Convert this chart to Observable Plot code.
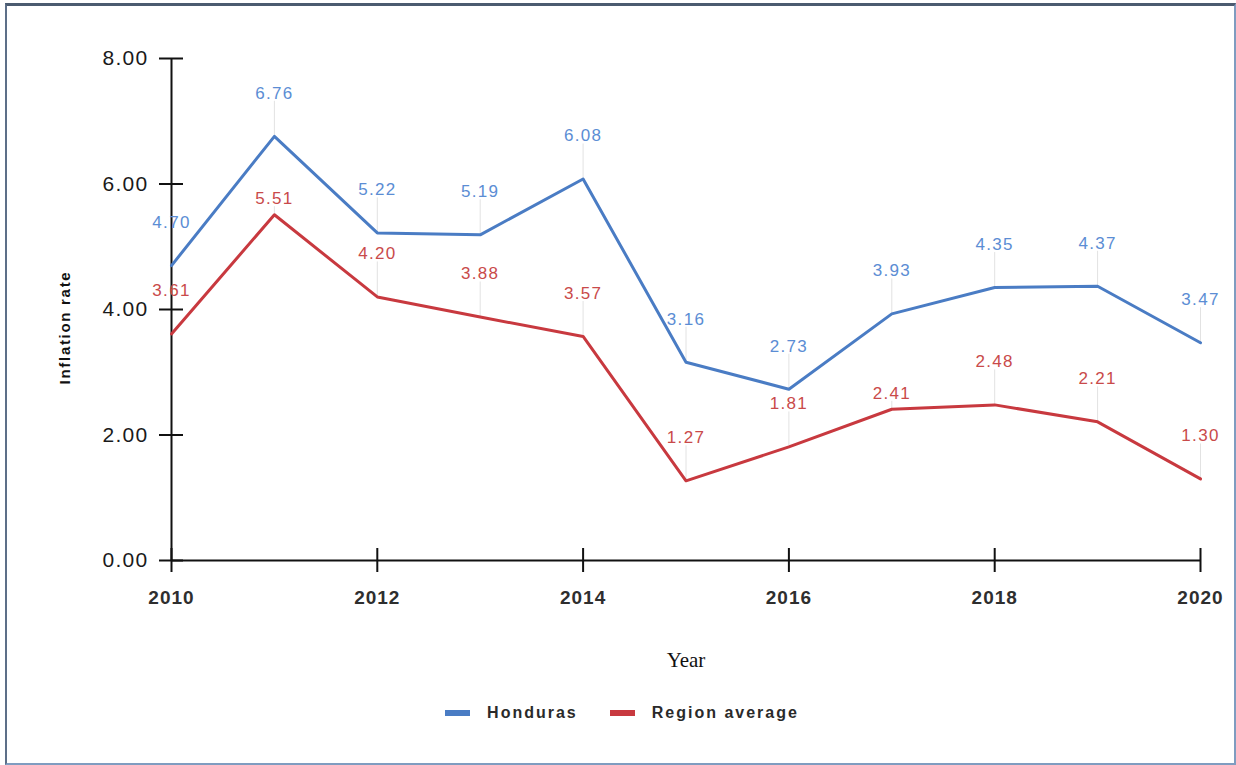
<!DOCTYPE html>
<html>
<head>
<meta charset="utf-8">
<script src="https://cdn.jsdelivr.net/npm/d3@7"></script>
<script src="https://cdn.jsdelivr.net/npm/@observablehq/plot@0.6"></script>
<style>
  html, body { margin: 0; padding: 0; background: #fff; }
  #wrap { position: relative; width: 1236px; height: 765px; overflow: hidden; }
  #frame { position: absolute; left: 5px; top: 3px; width: 1227px; height: 757px;
           border: 2px solid #7f9cc0; border-top: 3px solid #4b5b70; border-left: 2px solid #5d6f88; box-sizing: content-box; pointer-events: none; }
  #chart { position: absolute; left: 0; top: 0; }
  #legend { position: absolute; top: 704px; left: 0; width: 1244px; display: flex; justify-content: center; font-family: "Liberation Sans", Arial, sans-serif; font-size: 16px; font-weight: bold; letter-spacing: 2px; color: #2a2a2a; }
  .item { display: flex; align-items: center; margin: 0 16px; }
  .sw { width: 25px; height: 6px; margin-right: 17px; }
</style>
</head>
<body>
<div id="wrap">
  <div id="chart"></div>
  <div id="legend"></div>
  <div id="frame"></div>
</div>
<script>
const years = [2010, 2011, 2012, 2013, 2014, 2015, 2016, 2017, 2018, 2019, 2020];
const honduras = [4.70, 6.76, 5.22, 5.19, 6.08, 3.16, 2.73, 3.93, 4.35, 4.37, 3.47];
const regionAvg = [3.61, 5.51, 4.20, 3.88, 3.57, 1.27, 1.81, 2.41, 2.48, 2.21, 1.30];
const seriesNames = ["Honduras", "Region average"];
const seriesColors = ["#4a7cc4", "#c8393f"];
const labelColors = ["#5b8dd4", "#c94a4a"];
const yTicks = [0, 2, 4, 6, 8];
const xTicks = [2010, 2012, 2014, 2016, 2018, 2020];
// labels drawn closer to their point (to avoid crossing the other line)
const nearLabels = [["Region average", 2011], ["Region average", 2017]];

const rows = [];
years.forEach((yr, i) => {
  rows.push({series: seriesNames[0], year: yr, value: honduras[i]});
  rows.push({series: seriesNames[1], year: yr, value: regionAvg[i]});
});
const isNear = d => nearLabels.some(([s, y]) => s === d.series && y === d.year);
const farRows = rows.filter(d => !isNear(d));
const nearRows = rows.filter(isNear);
const colorOf = d => labelColors[seriesNames.indexOf(d.series)];

const plot = Plot.plot({
  width: 1236,
  height: 690,
  marginLeft: 171,
  marginRight: 36,
  marginTop: 58,
  marginBottom: 130,
  style: {background: "transparent", overflow: "visible"},
  x: {domain: [2010, 2020]},
  y: {domain: [0, 8]},
  color: {domain: seriesNames, range: seriesColors},
  marks: [
    // leader lines
    Plot.ruleX(farRows, {x: "year", y1: "value", y2: "value", insetTop: -35, stroke: "#e2e2e2", strokeWidth: 1}),
    Plot.ruleX(nearRows, {x: "year", y1: "value", y2: "value", insetTop: -8, stroke: "#e2e2e2", strokeWidth: 1}),
    // axes lines
    Plot.ruleX([2010], {y1: 0, y2: 8, stroke: "#111", strokeWidth: 2}),
    Plot.ruleY([0], {x1: 2010, x2: 2020, stroke: "#111", strokeWidth: 2}),
    Plot.ruleY(yTicks, {y: d => d, x1: 2010, x2: 2010, insetLeft: -12, insetRight: -12, stroke: "#111", strokeWidth: 2}),
    Plot.ruleX(xTicks, {x: d => d, y1: 0, y2: 0, insetTop: -12, insetBottom: -12, stroke: "#111", strokeWidth: 2}),
    Plot.axisY({ticks: yTicks, tickSize: 0, tickPadding: 23, tickFormat: d3.format(".2f"), label: null,
      fontSize: 21, fill: "#1a1a1a", fontFamily: "'Liberation Sans Narrow', 'Liberation Sans', Arial, sans-serif"}),
    Plot.axisX({ticks: xTicks, tickSize: 0, tickPadding: 30, tickFormat: d => String(d), label: null,
      fontSize: 19, fill: "#2e2e2e", fontWeight: "bold", fontFamily: "'Liberation Sans', Arial, sans-serif"}),
    // lines
    Plot.line(rows, {x: "year", y: "value", z: "series", stroke: "series", strokeWidth: 3}),
    // value labels
    Plot.text(farRows, {x: "year", y: "value", text: d => d.value.toFixed(2), dy: -43, lineAnchor: "middle",
      fill: colorOf, fontSize: 17, fontFamily: "'Liberation Sans', Arial, sans-serif"}),
    Plot.text(nearRows, {x: "year", y: "value", text: d => d.value.toFixed(2), dy: -16, lineAnchor: "middle",
      fill: colorOf, fontSize: 17, fontFamily: "'Liberation Sans', Arial, sans-serif"}),
    // axis titles
    Plot.text(["Year"], {frameAnchor: "bottom", dy: 106, text: d => d, fontSize: 21, fill: "#111",
      fontFamily: "'Liberation Serif', 'Times New Roman', serif"}),
    Plot.text(["Inflation rate"], {frameAnchor: "left", dx: -106, dy: 18, rotate: -90, text: d => d, fontSize: 15,
      textAnchor: "middle", lineAnchor: "middle",
      fill: "#111", fontWeight: "bold", fontFamily: "'Liberation Sans', Arial, sans-serif"})
  ]
});
document.getElementById("chart").appendChild(plot);
plot.querySelectorAll("text").forEach(t => {
  const s = t.textContent;
  if (/^\d\.\d\d$/.test(s)) t.style.letterSpacing = "1.3px";
  else if (/^20\d\d$/.test(s)) t.style.letterSpacing = "1px";
  else if (s === "Inflation rate") t.style.letterSpacing = "1.7px";
});

const legend = document.getElementById("legend");
seriesNames.forEach((name, i) => {
  const item = document.createElement("div");
  item.className = "item";
  const sw = document.createElement("div");
  sw.className = "sw";
  sw.style.background = seriesColors[i];
  const lab = document.createElement("span");
  lab.textContent = name;
  item.appendChild(sw);
  item.appendChild(lab);
  legend.appendChild(item);
});
</script>
</body>
</html>
